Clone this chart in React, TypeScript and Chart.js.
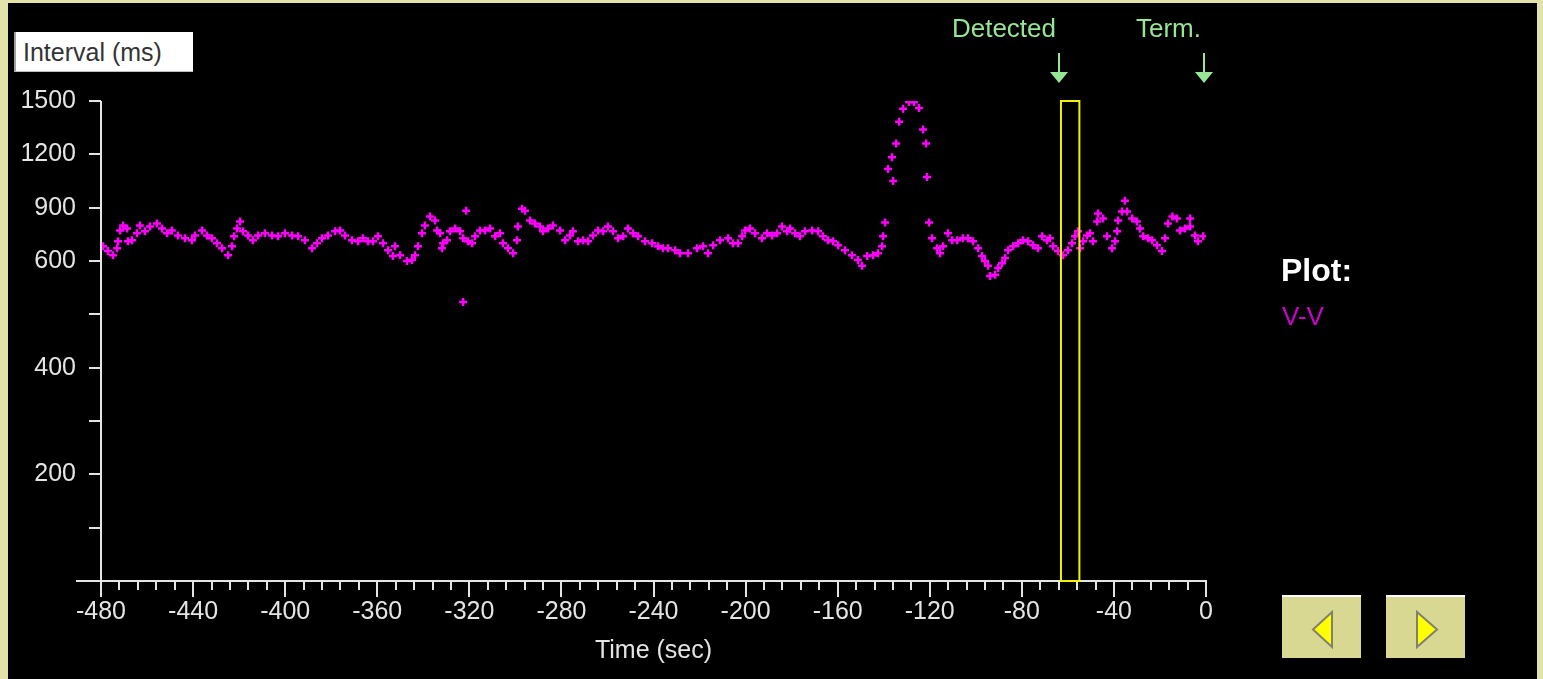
import React, { useEffect, useRef } from 'react';
import { Chart, registerables } from 'chart.js';

Chart.register(...registerables);

// ---- data ----
const times: number[] = [
  -479.1, -477.0, -474.8, -473.0, -472.6, -471.7, -470.4, -468.7, -468.3, -466.5,
  -464.4, -463.1, -460.9, -458.7, -455.7, -453.5, -451.3, -449.2, -446.6, -443.5,
  -440.5, -439.2, -436.1, -434.0, -431.8, -429.6, -427.4, -424.8, -423.1, -422.2,
  -420.9, -419.6, -418.3, -416.1, -414.0, -411.8, -408.8, -405.7, -403.1, -400.1,
  -397.0, -394.4, -391.4, -388.3, -386.2, -384.0, -381.4, -378.3, -376.2, -374.0,
  -371.0, -368.4, -366.2, -364.0, -361.8, -359.7, -357.5, -355.3, -353.2, -352.3,
  -350.1, -347.1, -344.9, -343.6, -342.3, -340.6, -339.3, -337.1, -334.9, -334.0,
  -332.7, -331.9, -331.4, -329.7, -328.4, -326.2, -324.0, -322.7, -322.7, -321.4,
  -320.6, -318.8, -317.5, -315.4, -313.2, -311.0, -308.8, -306.7, -305.4, -303.2,
  -301.0, -299.3, -298.9, -297.1, -295.8, -293.6, -291.5, -289.3, -288.0, -285.8,
  -283.7, -280.6, -278.4, -276.3, -275.0, -272.8, -270.6, -268.4, -266.3, -264.1,
  -261.9, -259.8, -257.6, -255.4, -253.2, -251.1, -248.9, -246.7, -243.7, -240.6,
  -238.0, -235.9, -233.7, -230.6, -228.5, -225.0, -221.1, -218.5, -216.3, -214.1,
  -211.1, -207.6, -205.5, -203.3, -201.5, -200.2, -198.1, -195.9, -192.9, -190.7,
  -188.5, -186.3, -184.2, -182.0, -180.7, -178.5, -176.4, -174.2, -171.1, -168.5,
  -166.4, -164.2, -162.0, -159.8, -156.8, -153.8, -151.2, -149.4, -147.2, -144.6,
  -142.5, -140.7, -140.3, -139.4, -138.1, -136.4, -135.9, -134.6, -133.3, -131.6,
  -129.0, -126.8, -124.7, -122.9, -121.6, -121.2, -120.3, -119.0, -116.8, -115.5,
  -114.2, -112.1, -110.3, -108.1, -105.6, -103.4, -101.2, -99.0, -97.3, -96.0,
  -94.7, -93.8, -91.6, -90.3, -88.6, -87.3, -86.0, -83.8, -81.6, -79.5,
  -77.3, -75.1, -73.0, -71.2, -69.1, -67.8, -66.4, -64.3, -62.1, -60.0,
  -58.2, -56.9, -55.6, -54.7, -53.4, -51.7, -50.4, -49.1, -47.3, -46.9,
  -44.7, -43.0, -40.8, -39.5, -38.6, -38.2, -36.5, -35.2, -34.3, -32.1,
  -30.0, -28.7, -27.3, -25.2, -23.4, -21.3, -19.1, -17.8, -16.5, -14.6,
  -12.6, -11.3, -9.1, -6.9, -6.9, -4.8, -3.5, -1.2,
];

const intervals: number[] = [
  683, 656, 633, 672, 711, 772, 800, 783, 711, 717,
  756, 800, 767, 794, 811, 783, 756, 772, 744, 728,
  717, 744, 772, 744, 728, 700, 672, 633, 683, 739,
  783, 822, 767, 744, 717, 744, 756, 744, 739, 756,
  744, 739, 717, 672, 700, 728, 744, 767, 772, 744,
  717, 711, 728, 711, 711, 739, 700, 661, 628, 683,
  633, 600, 606, 633, 683, 756, 800, 850, 828, 772,
  756, 672, 700, 717, 767, 783, 767, 728, 523, 883,
  711, 700, 739, 772, 772, 783, 739, 756, 700, 672,
  644, 717, 794, 894, 883, 828, 811, 794, 767, 783,
  800, 772, 717, 744, 767, 711, 717, 711, 744, 772,
  767, 794, 767, 728, 739, 783, 756, 739, 711, 700,
  683, 672, 672, 661, 644, 644, 672, 683, 644, 689,
  717, 728, 700, 700, 739, 772, 783, 756, 728, 756,
  744, 756, 794, 767, 783, 756, 739, 767, 772, 767,
  739, 717, 711, 689, 661, 633, 606, 591, 628, 633,
  644, 683, 739, 817, 1117, 1183, 1050, 1261, 1383, 1456,
  1494, 1494, 1461, 1339, 1261, 1072, 817, 728, 672, 644,
  683, 756, 717, 717, 728, 728, 711, 672, 628, 600,
  591, 572, 574, 587, 596, 617, 661, 683, 700, 717,
  711, 689, 672, 739, 717, 728, 683, 656, 633, 661,
  700, 739, 767, 672, 711, 744, 756, 711, 822, 867,
  839, 739, 672, 711, 767, 828, 878, 939, 878, 839,
  822, 783, 739, 728, 717, 689, 656, 728, 811, 850,
  839, 772, 783, 839, 794, 744, 711, 739,
];

const xMin = -480;
const xMax = 0;
const xMajorStep = 40;
const xMinorStep = 8;

// y axis is piecewise: 0..600 in 100 ms steps, 600..1500 in 300 ms steps
const yTickValues = [0, 100, 200, 300, 400, 500, 600, 900, 1200, 1500];
const yTickLabels = ['', '', '200', '', '400', '', '600', '900', '1200', '1500'];

const detectedTime = -64;
const termTime = -1;
const windowStart = -63;
const windowEnd = -55;
const windowTop = 1500;

const toAxis = (v: number) => (v <= 600 ? v / 100 : 6 + (v - 600) / 300);

const FONT = "'Liberation Sans', Arial, sans-serif";
const AXIS_COLOR = '#e4e4e4';
const GREEN = '#96e696';

const overlayPlugin = {
  id: 'overlay',
  afterDraw(chart: any) {
    const { ctx, chartArea: a } = chart;
    const xs = chart.scales.x;
    const ys = chart.scales.y;
    ctx.save();
    ctx.strokeStyle = AXIS_COLOR;
    ctx.lineWidth = 2;
    const x0 = Math.round(a.left);
    const yb = Math.round(a.bottom);
    ctx.beginPath();
    ctx.moveTo(x0, a.top);
    ctx.lineTo(x0, yb);
    ctx.moveTo(x0 - 25, yb);
    ctx.lineTo(a.right + 1, yb);
    ctx.stroke();
    ctx.beginPath();
    yTickValues.forEach((v) => {
      if (v === 0) return;
      const py = Math.round(ys.getPixelForValue(toAxis(v)));
      ctx.moveTo(x0 - 12, py);
      ctx.lineTo(x0, py);
    });
    ctx.stroke();
    ctx.beginPath();
    for (let t = xMin; t <= xMax; t += xMinorStep) {
      const px = Math.round(xs.getPixelForValue(t));
      const len = t % xMajorStep === 0 ? 16 : 9;
      ctx.moveTo(px, yb);
      ctx.lineTo(px, yb + len);
    }
    ctx.stroke();

    const rx1 = xs.getPixelForValue(windowStart);
    const rx2 = xs.getPixelForValue(windowEnd);
    const ry1 = ys.getPixelForValue(toAxis(windowTop));
    ctx.strokeStyle = '#f2f200';
    ctx.lineWidth = 2;
    ctx.strokeRect(rx1, ry1, rx2 - rx1, yb - ry1);

    const markers: [number, string][] = [
      [detectedTime, 'Detected'],
      [termTime, 'Term.'],
    ];
    ctx.fillStyle = GREEN;
    ctx.strokeStyle = GREEN;
    ctx.lineWidth = 2;
    ctx.font = `26px ${FONT}`;
    ctx.textAlign = 'right';
    ctx.textBaseline = 'alphabetic';
    markers.forEach(([t, label]) => {
      const px = Math.round(xs.getPixelForValue(t));
      ctx.fillText(label, px - 3, 37);
      ctx.beginPath();
      ctx.moveTo(px, 53);
      ctx.lineTo(px, 74);
      ctx.stroke();
      ctx.beginPath();
      ctx.moveTo(px - 9, 72);
      ctx.lineTo(px + 9, 72);
      ctx.lineTo(px, 83);
      ctx.closePath();
      ctx.fill();
    });
    ctx.restore();
  },
};

export default function App() {
  const ref = useRef<HTMLCanvasElement>(null);

  useEffect(() => {
    const points = times.map((t, i) => ({ x: t, y: toAxis(intervals[i]) }));
    const chart = new Chart(ref.current as HTMLCanvasElement, {
      type: 'scatter',
      data: {
        datasets: [
          {
            label: 'V-V',
            data: points,
            pointStyle: 'cross',
            pointRadius: 4,
            borderWidth: 2.5,
            borderColor: '#ff00ff',
            backgroundColor: '#ff00ff',
            showLine: false,
          },
        ],
      },
      options: {
        animation: false,
        responsive: false,
        events: [],
        layout: { padding: { left: 0, right: 337, top: 101, bottom: 0 } },
        plugins: { legend: { display: false }, tooltip: { enabled: false } },
        scales: {
          x: {
            type: 'linear',
            min: xMin,
            max: xMax,
            grid: { display: false, drawTicks: false },
            border: { display: false },
            ticks: {
              stepSize: xMinorStep,
              autoSkip: false,
              maxRotation: 0,
              minRotation: 0,
              padding: 16,
              color: AXIS_COLOR,
              font: { family: FONT, size: 25 },
              callback: (v: any) => (Number(v) % xMajorStep === 0 ? String(v) : ''),
            },
            title: {
              display: true,
              text: 'Time (sec)',
              color: AXIS_COLOR,
              font: { family: FONT, size: 25 },
              padding: { top: 0, bottom: 13 },
            },
            afterFit: (s: any) => {
              s.height = 98;
              s.paddingLeft = 0;
              s.paddingRight = 0;
            },
          },
          y: {
            type: 'linear',
            min: 0,
            max: 9,
            grid: { display: false, drawTicks: false },
            border: { display: false },
            afterBuildTicks: (s: any) => {
              s.ticks = yTickValues.map((v) => ({ value: toAxis(v) }));
            },
            ticks: {
              autoSkip: false,
              padding: 25,
              color: AXIS_COLOR,
              font: { family: FONT, size: 25 },
              callback: (v: any) => {
                const i = yTickValues.findIndex((t) => Math.abs(toAxis(t) - Number(v)) < 1e-6);
                return i >= 0 ? yTickLabels[i] : '';
              },
            },
            afterFit: (s: any) => {
              s.width = 101;
              s.paddingTop = 0;
              s.paddingBottom = 0;
            },
          },
        },
      },
      plugins: [overlayPlugin],
    } as any);
    return () => chart.destroy();
  }, []);

  const btn = (left: number, dir: 'l' | 'r') => (
    <div
      style={{
        position: 'absolute',
        left,
        top: 595,
        width: 79,
        height: 63,
        background: '#d8d893',
        borderTop: '2px solid #ffffff',
        boxSizing: 'border-box',
      }}
    >
      <svg width={79} height={61} style={{ position: 'absolute', left: 0, top: 0 }}>
        <polygon
          points={dir === 'l' ? '31,32.5 50,15 50,50' : '31,15 31,50 51,32.5'}
          fill="#ffff00"
          stroke="#808070"
          strokeWidth={2}
        />
      </svg>
    </div>
  );

  return (
    <div
      style={{
        position: 'fixed',
        left: 0,
        top: 0,
        width: 1543,
        height: 679,
        background: '#e2e2aa',
        overflow: 'hidden',
      }}
    >
      <div style={{ position: 'absolute', left: 8, top: 3, width: 1529, height: 676, background: '#000' }} />
      <canvas ref={ref} width={1543} height={679} style={{ position: 'absolute', left: 0, top: 0 }} />
      <div
        style={{
          position: 'absolute',
          left: 14,
          top: 32,
          width: 179,
          height: 40,
          background: '#ffffff',
          borderLeft: '2px solid #a0a0a0',
          borderBottom: '1px solid #c0c0c0',
          boxSizing: 'border-box',
          color: '#333333',
          font: `25px ${FONT}`,
          lineHeight: '40px',
          paddingLeft: 7,
          whiteSpace: 'nowrap',
        }}
      >
        Interval (ms)
      </div>
      <div
        style={{
          position: 'absolute',
          left: 1281,
          top: 254,
          color: '#ffffff',
          font: `bold 32px ${FONT}`,
          lineHeight: '32px',
          whiteSpace: 'nowrap',
        }}
      >
        Plot:
      </div>
      <div
        style={{
          position: 'absolute',
          left: 1282,
          top: 303,
          color: '#cc00cc',
          font: `26px ${FONT}`,
          lineHeight: '26px',
          whiteSpace: 'nowrap',
        }}
      >
        V-V
      </div>
      {btn(1282, 'l')}
      {btn(1386, 'r')}
    </div>
  );
}
